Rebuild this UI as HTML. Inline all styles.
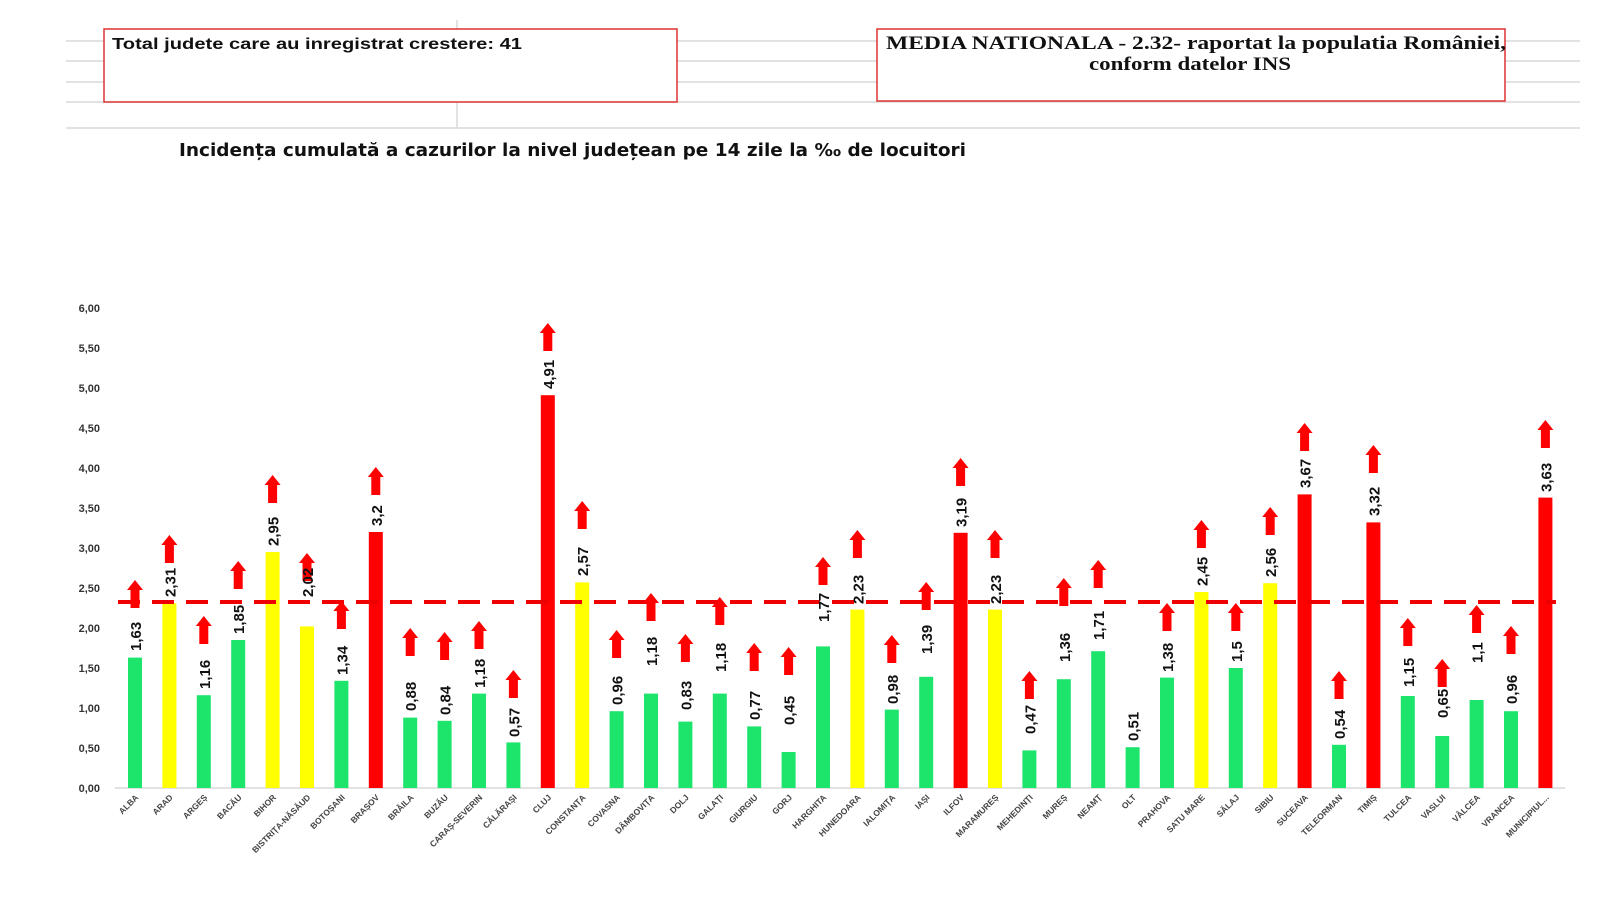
<!DOCTYPE html>
<html><head><meta charset="utf-8"><style>html,body{margin:0;padding:0;background:#fff}svg{display:block}</style></head><body>
<svg width="1600" height="900" viewBox="0 0 1600 900" xmlns="http://www.w3.org/2000/svg">
<defs><path id="arr" d="M-8,10 L0,0 L8,10 L4.5,10 L4.5,28 L-4.5,28 L-4.5,10 Z" fill="#f00"/></defs>
<g stroke="#d9d9d9" stroke-width="1.5">
<line x1="66" y1="41" x2="1580" y2="41"/><line x1="66" y1="61" x2="1580" y2="61"/><line x1="66" y1="82" x2="1580" y2="82"/><line x1="66" y1="102" x2="1580" y2="102"/><line x1="66" y1="128" x2="1580" y2="128"/><line x1="457" y1="20" x2="457" y2="128"/></g>
<rect x="104" y="29" width="573" height="73" fill="#fff" stroke="#d33" stroke-width="1.5"/>
<text x="112" y="49" font-family="Liberation Sans, sans-serif" font-weight="bold" font-size="16" fill="#111" textLength="410" lengthAdjust="spacingAndGlyphs">Total judete care au inregistrat crestere: 41</text>
<rect x="877" y="29" width="628" height="72" fill="#fff" stroke="#d33" stroke-width="1.5"/>
<text font-family="Liberation Serif, serif" font-weight="bold" font-size="19" fill="#111"><tspan x="886" y="49" textLength="620" lengthAdjust="spacingAndGlyphs">MEDIA NATIONALA - 2.32-  raportat la populatia României,</tspan><tspan x="1089" y="70" textLength="202" lengthAdjust="spacingAndGlyphs">conform datelor INS</tspan></text>
<text x="179" y="156" font-family="DejaVu Sans, sans-serif" font-weight="bold" font-size="18" fill="#111" textLength="787" lengthAdjust="spacingAndGlyphs">Incidența cumulată a cazurilor la nivel județean pe 14 zile la ‰ de locuitori</text>
<g font-family="Liberation Sans, sans-serif" font-weight="bold" font-size="11" fill="#333" text-anchor="end">
<text x="100" y="792">0,00</text><text x="100" y="752">0,50</text><text x="100" y="712">1,00</text><text x="100" y="672">1,50</text><text x="100" y="632">2,00</text><text x="100" y="592">2,50</text><text x="100" y="552">3,00</text><text x="100" y="512">3,50</text><text x="100" y="472">4,00</text><text x="100" y="432">4,50</text><text x="100" y="392">5,00</text><text x="100" y="352">5,50</text><text x="100" y="312">6,00</text></g>
<line x1="115" y1="788" x2="1565" y2="788" stroke="#d9d9d9" stroke-width="1.5"/>
<g>
<rect x="128" y="657.6" width="14" height="130.4" fill="#1de46b"/>
<rect x="162.4" y="603.2" width="14" height="184.8" fill="#ffff00"/>
<rect x="196.8" y="695.2" width="14" height="92.8" fill="#1de46b"/>
<rect x="231.2" y="640" width="14" height="148" fill="#1de46b"/>
<rect x="265.6" y="552" width="14" height="236" fill="#ffff00"/>
<rect x="300" y="626.4" width="14" height="161.6" fill="#ffff00"/>
<rect x="334.4" y="680.8" width="14" height="107.2" fill="#1de46b"/>
<rect x="368.8" y="532" width="14" height="256" fill="#ff0000"/>
<rect x="403.2" y="717.6" width="14" height="70.4" fill="#1de46b"/>
<rect x="437.6" y="720.8" width="14" height="67.2" fill="#1de46b"/>
<rect x="472" y="693.6" width="14" height="94.4" fill="#1de46b"/>
<rect x="506.4" y="742.4" width="14" height="45.6" fill="#1de46b"/>
<rect x="540.8" y="395.2" width="14" height="392.8" fill="#ff0000"/>
<rect x="575.2" y="582.4" width="14" height="205.6" fill="#ffff00"/>
<rect x="609.6" y="711.2" width="14" height="76.8" fill="#1de46b"/>
<rect x="644" y="693.6" width="14" height="94.4" fill="#1de46b"/>
<rect x="678.4" y="721.6" width="14" height="66.4" fill="#1de46b"/>
<rect x="712.8" y="693.6" width="14" height="94.4" fill="#1de46b"/>
<rect x="747.2" y="726.4" width="14" height="61.6" fill="#1de46b"/>
<rect x="781.6" y="752" width="14" height="36" fill="#1de46b"/>
<rect x="816" y="646.4" width="14" height="141.6" fill="#1de46b"/>
<rect x="850.4" y="609.6" width="14" height="178.4" fill="#ffff00"/>
<rect x="884.8" y="709.6" width="14" height="78.4" fill="#1de46b"/>
<rect x="919.2" y="676.8" width="14" height="111.2" fill="#1de46b"/>
<rect x="953.6" y="532.8" width="14" height="255.2" fill="#ff0000"/>
<rect x="988" y="609.6" width="14" height="178.4" fill="#ffff00"/>
<rect x="1022.4" y="750.4" width="14" height="37.6" fill="#1de46b"/>
<rect x="1056.8" y="679.2" width="14" height="108.8" fill="#1de46b"/>
<rect x="1091.2" y="651.2" width="14" height="136.8" fill="#1de46b"/>
<rect x="1125.6" y="747.2" width="14" height="40.8" fill="#1de46b"/>
<rect x="1160" y="677.6" width="14" height="110.4" fill="#1de46b"/>
<rect x="1194.4" y="592" width="14" height="196" fill="#ffff00"/>
<rect x="1228.8" y="668" width="14" height="120" fill="#1de46b"/>
<rect x="1263.2" y="583.2" width="14" height="204.8" fill="#ffff00"/>
<rect x="1297.6" y="494.4" width="14" height="293.6" fill="#ff0000"/>
<rect x="1332" y="744.8" width="14" height="43.2" fill="#1de46b"/>
<rect x="1366.4" y="522.4" width="14" height="265.6" fill="#ff0000"/>
<rect x="1400.8" y="696" width="14" height="92" fill="#1de46b"/>
<rect x="1435.2" y="736" width="14" height="52" fill="#1de46b"/>
<rect x="1469.6" y="700" width="14" height="88" fill="#1de46b"/>
<rect x="1504" y="711.2" width="14" height="76.8" fill="#1de46b"/>
<rect x="1538.4" y="497.6" width="14" height="290.4" fill="#ff0000"/>
</g>
<line x1="118" y1="602" x2="1556" y2="602" stroke="#e00" stroke-width="4" stroke-dasharray="22,12"/>
<g>
<use href="#arr" x="135" y="580"/><use href="#arr" x="169.4" y="535"/><use href="#arr" x="203.8" y="616"/><use href="#arr" x="238.2" y="561"/><use href="#arr" x="272.6" y="475"/><use href="#arr" x="307" y="553"/><use href="#arr" x="341.4" y="601"/><use href="#arr" x="375.8" y="467"/><use href="#arr" x="410.2" y="628"/><use href="#arr" x="444.6" y="632"/><use href="#arr" x="479" y="621"/><use href="#arr" x="513.4" y="670"/><use href="#arr" x="547.8" y="323"/><use href="#arr" x="582.2" y="501"/><use href="#arr" x="616.6" y="630"/><use href="#arr" x="651" y="593"/><use href="#arr" x="685.4" y="634"/><use href="#arr" x="719.8" y="597"/><use href="#arr" x="754.2" y="643"/><use href="#arr" x="788.6" y="647"/><use href="#arr" x="823" y="557"/><use href="#arr" x="857.4" y="530"/><use href="#arr" x="891.8" y="635"/><use href="#arr" x="926.2" y="582"/><use href="#arr" x="960.6" y="458"/><use href="#arr" x="995" y="530"/><use href="#arr" x="1029.4" y="671"/><use href="#arr" x="1063.8" y="578"/><use href="#arr" x="1098.2" y="560"/><use href="#arr" x="1167" y="603"/><use href="#arr" x="1201.4" y="520"/><use href="#arr" x="1235.8" y="603"/><use href="#arr" x="1270.2" y="507"/><use href="#arr" x="1304.6" y="423"/><use href="#arr" x="1339" y="671"/><use href="#arr" x="1373.4" y="445"/><use href="#arr" x="1407.8" y="618"/><use href="#arr" x="1442.2" y="659"/><use href="#arr" x="1476.6" y="605"/><use href="#arr" x="1511" y="626"/><use href="#arr" x="1545.4" y="420"/>
</g>
<g font-family="Liberation Sans, sans-serif" font-weight="bold" font-size="15" fill="#111">
<text transform="translate(141,651) rotate(-90)">1,63</text>
<text transform="translate(175.4,597) rotate(-90)">2,31</text>
<text transform="translate(209.8,689) rotate(-90)">1,16</text>
<text transform="translate(244.2,634) rotate(-90)">1,85</text>
<text transform="translate(278.6,546) rotate(-90)">2,95</text>
<text transform="translate(313,597) rotate(-90)">2,02</text>
<text transform="translate(347.4,675) rotate(-90)">1,34</text>
<text transform="translate(381.8,526) rotate(-90)">3,2</text>
<text transform="translate(416.2,711) rotate(-90)">0,88</text>
<text transform="translate(450.6,715) rotate(-90)">0,84</text>
<text transform="translate(485,688) rotate(-90)">1,18</text>
<text transform="translate(519.4,737) rotate(-90)">0,57</text>
<text transform="translate(553.8,389) rotate(-90)">4,91</text>
<text transform="translate(588.2,576) rotate(-90)">2,57</text>
<text transform="translate(622.6,705) rotate(-90)">0,96</text>
<text transform="translate(657,666) rotate(-90)">1,18</text>
<text transform="translate(691.4,710) rotate(-90)">0,83</text>
<text transform="translate(725.8,672) rotate(-90)">1,18</text>
<text transform="translate(760.2,720) rotate(-90)">0,77</text>
<text transform="translate(794.6,725) rotate(-90)">0,45</text>
<text transform="translate(829,622) rotate(-90)">1,77</text>
<text transform="translate(863.4,604) rotate(-90)">2,23</text>
<text transform="translate(897.8,704) rotate(-90)">0,98</text>
<text transform="translate(932.2,654) rotate(-90)">1,39</text>
<text transform="translate(966.6,527) rotate(-90)">3,19</text>
<text transform="translate(1001,604) rotate(-90)">2,23</text>
<text transform="translate(1035.4,734) rotate(-90)">0,47</text>
<text transform="translate(1069.8,662) rotate(-90)">1,36</text>
<text transform="translate(1104.2,640) rotate(-90)">1,71</text>
<text transform="translate(1138.6,741) rotate(-90)">0,51</text>
<text transform="translate(1173,672) rotate(-90)">1,38</text>
<text transform="translate(1207.4,586) rotate(-90)">2,45</text>
<text transform="translate(1241.8,662) rotate(-90)">1,5</text>
<text transform="translate(1276.2,577) rotate(-90)">2,56</text>
<text transform="translate(1310.6,488) rotate(-90)">3,67</text>
<text transform="translate(1345,739) rotate(-90)">0,54</text>
<text transform="translate(1379.4,516) rotate(-90)">3,32</text>
<text transform="translate(1413.8,687) rotate(-90)">1,15</text>
<text transform="translate(1448.2,718) rotate(-90)">0,65</text>
<text transform="translate(1482.6,663) rotate(-90)">1,1</text>
<text transform="translate(1517,704) rotate(-90)">0,96</text>
<text transform="translate(1551.4,492) rotate(-90)">3,63</text>
</g>
<g font-family="Liberation Sans, sans-serif" font-weight="bold" font-size="8.5" fill="#444" text-anchor="end">
<text transform="translate(139,798) rotate(-45)">ALBA</text>
<text transform="translate(173.4,798) rotate(-45)">ARAD</text>
<text transform="translate(207.8,798) rotate(-45)">ARGEȘ</text>
<text transform="translate(242.2,798) rotate(-45)">BACĂU</text>
<text transform="translate(276.6,798) rotate(-45)">BIHOR</text>
<text transform="translate(311,798) rotate(-45)">BISTRIȚA-NĂSĂUD</text>
<text transform="translate(345.4,798) rotate(-45)">BOTOȘANI</text>
<text transform="translate(379.8,798) rotate(-45)">BRAȘOV</text>
<text transform="translate(414.2,798) rotate(-45)">BRĂILA</text>
<text transform="translate(448.6,798) rotate(-45)">BUZĂU</text>
<text transform="translate(483,798) rotate(-45)">CARAȘ-SEVERIN</text>
<text transform="translate(517.4,798) rotate(-45)">CĂLĂRAȘI</text>
<text transform="translate(551.8,798) rotate(-45)">CLUJ</text>
<text transform="translate(586.2,798) rotate(-45)">CONSTANȚA</text>
<text transform="translate(620.6,798) rotate(-45)">COVASNA</text>
<text transform="translate(655,798) rotate(-45)">DÂMBOVIȚA</text>
<text transform="translate(689.4,798) rotate(-45)">DOLJ</text>
<text transform="translate(723.8,798) rotate(-45)">GALAȚI</text>
<text transform="translate(758.2,798) rotate(-45)">GIURGIU</text>
<text transform="translate(792.6,798) rotate(-45)">GORJ</text>
<text transform="translate(827,798) rotate(-45)">HARGHITA</text>
<text transform="translate(861.4,798) rotate(-45)">HUNEDOARA</text>
<text transform="translate(895.8,798) rotate(-45)">IALOMIȚA</text>
<text transform="translate(930.2,798) rotate(-45)">IAȘI</text>
<text transform="translate(964.6,798) rotate(-45)">ILFOV</text>
<text transform="translate(999,798) rotate(-45)">MARAMUREȘ</text>
<text transform="translate(1033.4,798) rotate(-45)">MEHEDINȚI</text>
<text transform="translate(1067.8,798) rotate(-45)">MUREȘ</text>
<text transform="translate(1102.2,798) rotate(-45)">NEAMȚ</text>
<text transform="translate(1136.6,798) rotate(-45)">OLT</text>
<text transform="translate(1171,798) rotate(-45)">PRAHOVA</text>
<text transform="translate(1205.4,798) rotate(-45)">SATU MARE</text>
<text transform="translate(1239.8,798) rotate(-45)">SĂLAJ</text>
<text transform="translate(1274.2,798) rotate(-45)">SIBIU</text>
<text transform="translate(1308.6,798) rotate(-45)">SUCEAVA</text>
<text transform="translate(1343,798) rotate(-45)">TELEORMAN</text>
<text transform="translate(1377.4,798) rotate(-45)">TIMIȘ</text>
<text transform="translate(1411.8,798) rotate(-45)">TULCEA</text>
<text transform="translate(1446.2,798) rotate(-45)">VASLUI</text>
<text transform="translate(1480.6,798) rotate(-45)">VÂLCEA</text>
<text transform="translate(1515,798) rotate(-45)">VRANCEA</text>
<text transform="translate(1549.4,798) rotate(-45)">MUNICIPIUL...</text>
</g>
</svg>
</body></html>
